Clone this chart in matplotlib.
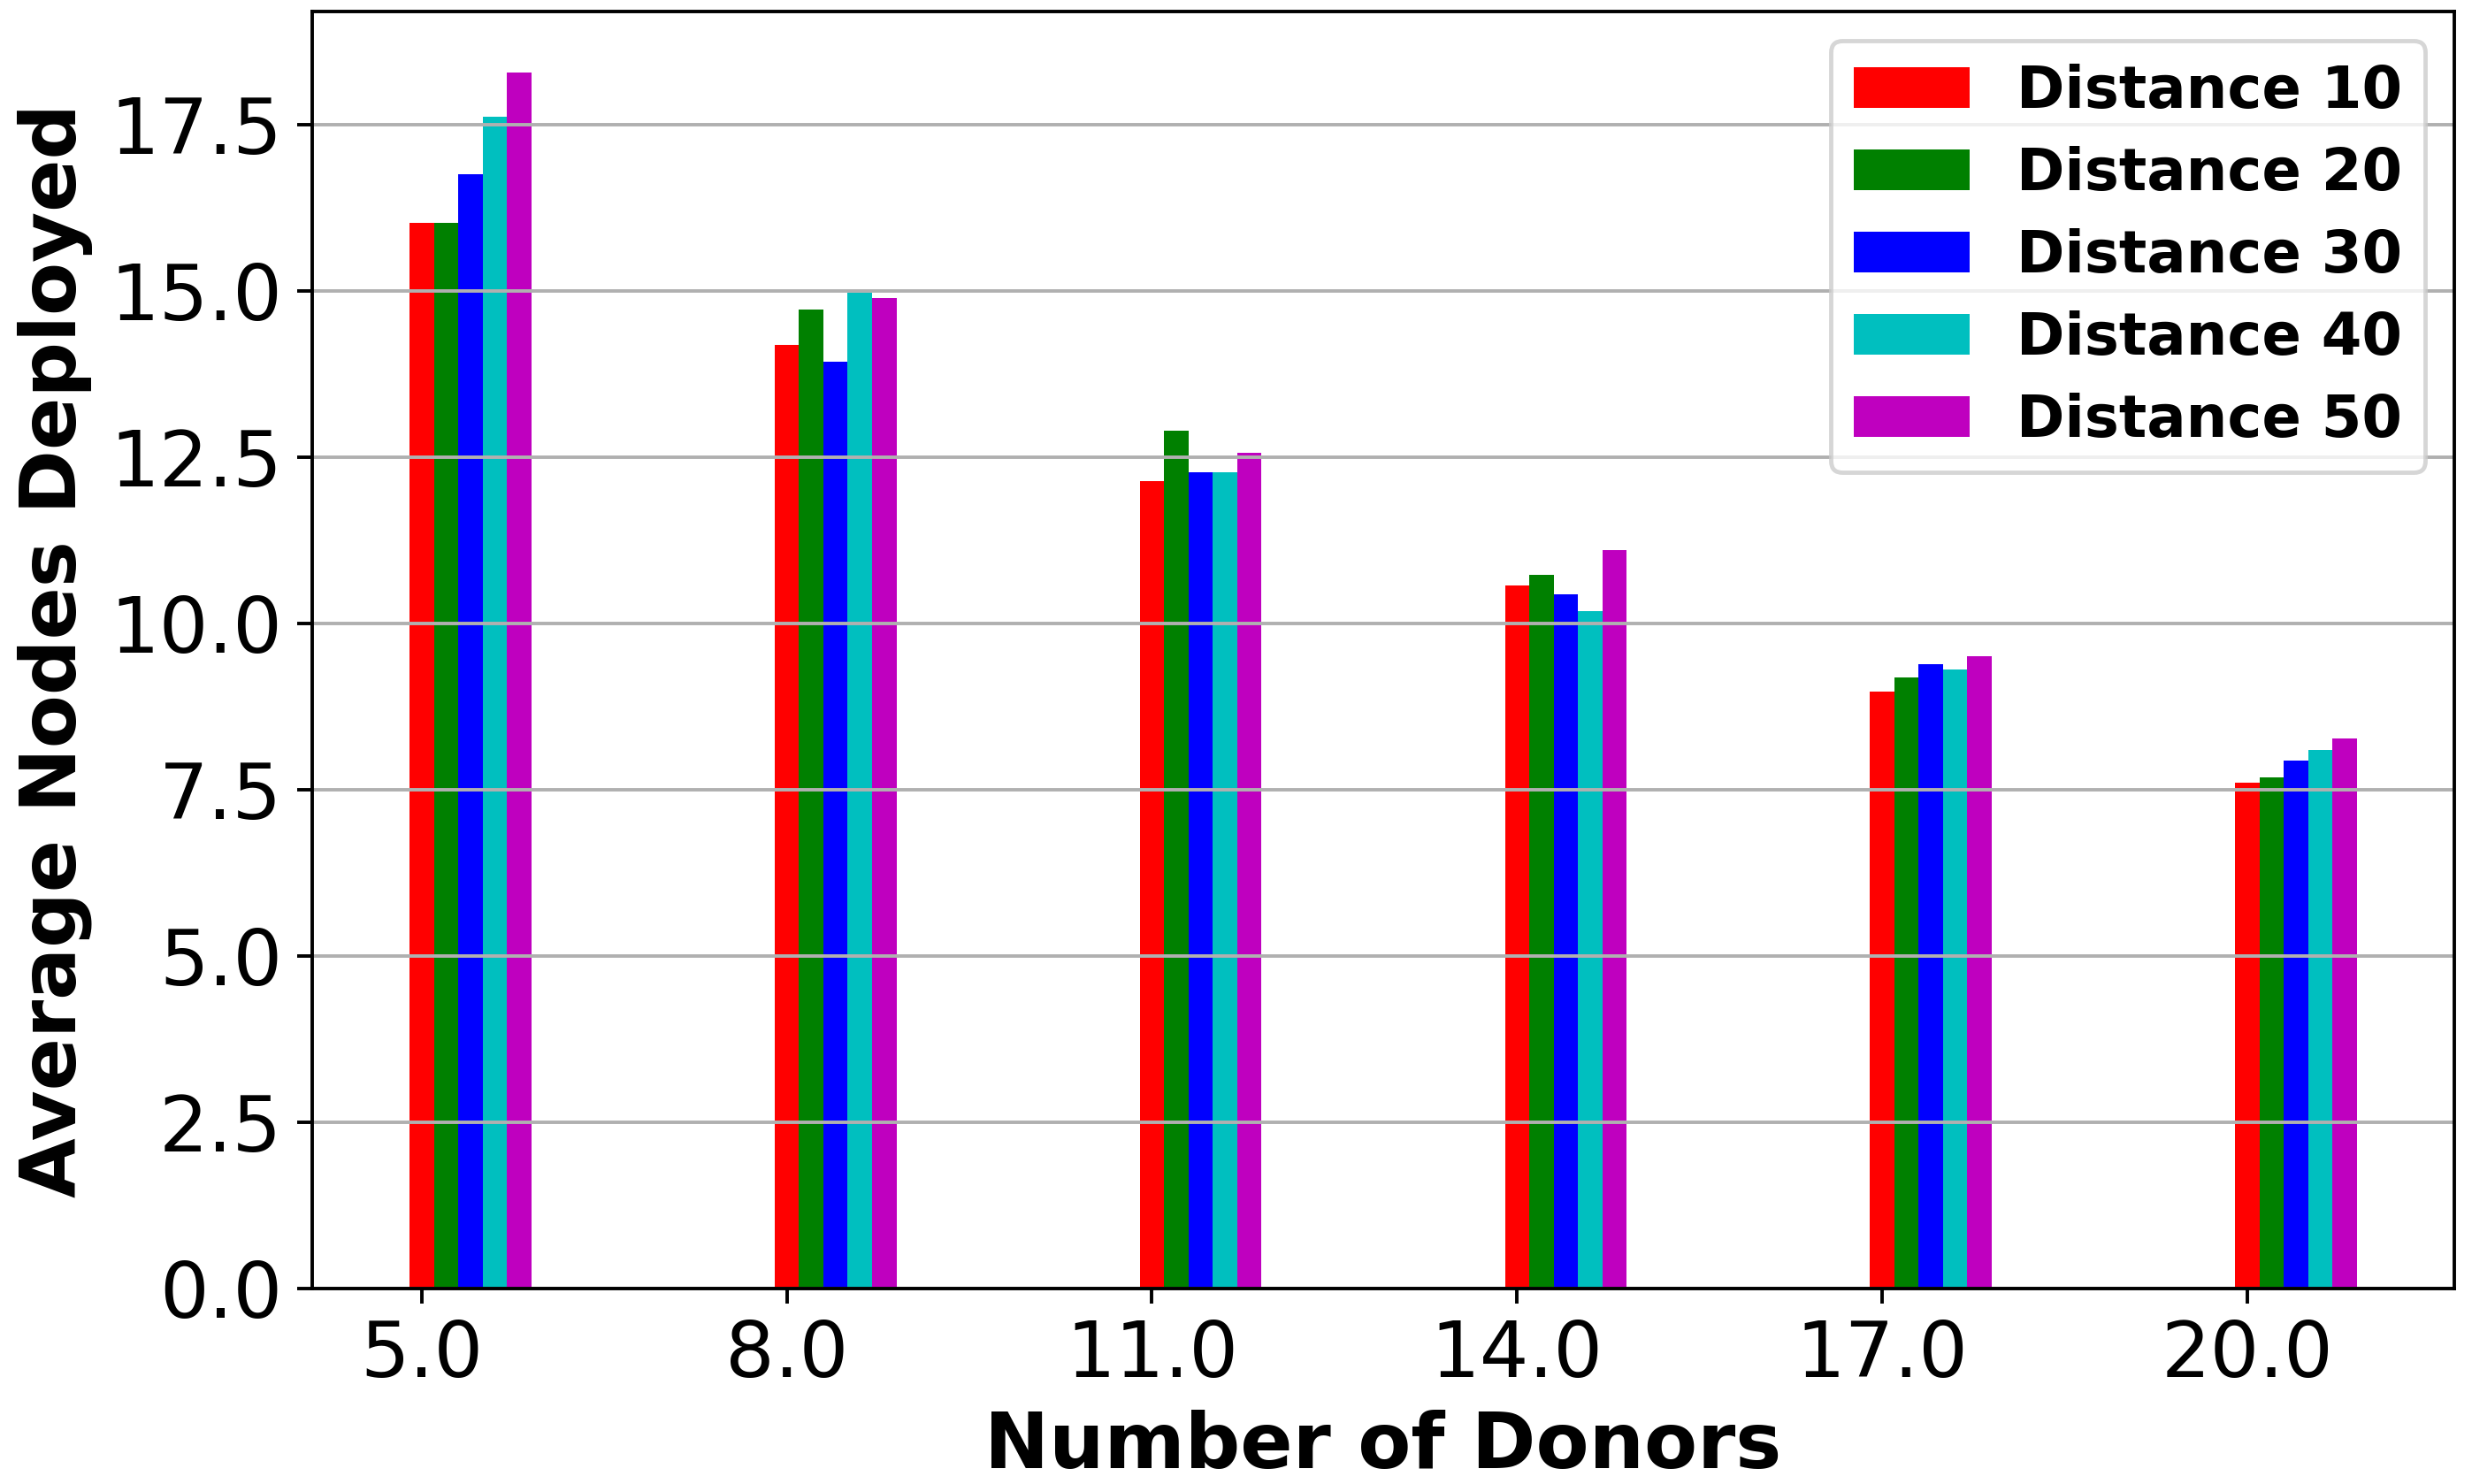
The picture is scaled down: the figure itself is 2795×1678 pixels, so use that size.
import matplotlib
matplotlib.use("Agg")
import matplotlib.pyplot as plt
import numpy as np

# number of donors on the x axis
donors = [5.0, 8.0, 11.0, 14.0, 17.0, 20.0]
tick_labels = ["5.0", "8.0", "11.0", "14.0", "17.0", "20.0"]

# average nodes deployed, one list per distance
dist_10 = [16.02, 14.18, 12.14, 10.57, 8.98, 7.60]
dist_20 = [16.02, 14.72, 12.89, 10.73, 9.18, 7.68]
dist_30 = [16.75, 13.93, 12.27, 10.44, 9.39, 7.94]
dist_40 = [17.62, 14.97, 12.27, 10.18, 9.30, 8.10]
dist_50 = [18.28, 14.89, 12.56, 11.10, 9.51, 8.27]

series = [dist_10, dist_20, dist_30, dist_40, dist_50]
labels = ["Distance 10", "Distance 20", "Distance 30", "Distance 40", "Distance 50"]
colors = ["r", "g", "b", "c", "m"]

dpi = 350
fig = plt.figure(figsize=(2795 / dpi, 1678 / dpi), dpi=dpi)
ax = fig.add_subplot(111)
fig.subplots_adjust(left=0.1263, right=0.9928, bottom=0.1317, top=0.9921)

x = np.array(donors)
width = 0.2
for i, (vals, lab, col) in enumerate(zip(series, labels, colors)):
    ax.bar(x + i * width, vals, width, color=col, label=lab)

ax.set_xticks(x)
ax.set_xticklabels(tick_labels)
ax.tick_params(labelsize=18)
ax.yaxis.grid(True)
ax.set_xlabel("Number of Donors", fontsize=18, fontweight="bold")
ax.set_ylabel("Average Nodes Deployed", fontsize=18, fontweight="bold")
ax.legend(loc="upper right", prop={"weight": "bold", "size": 13.5}, labelspacing=0.44)

fig.savefig("out.png", dpi=dpi)
